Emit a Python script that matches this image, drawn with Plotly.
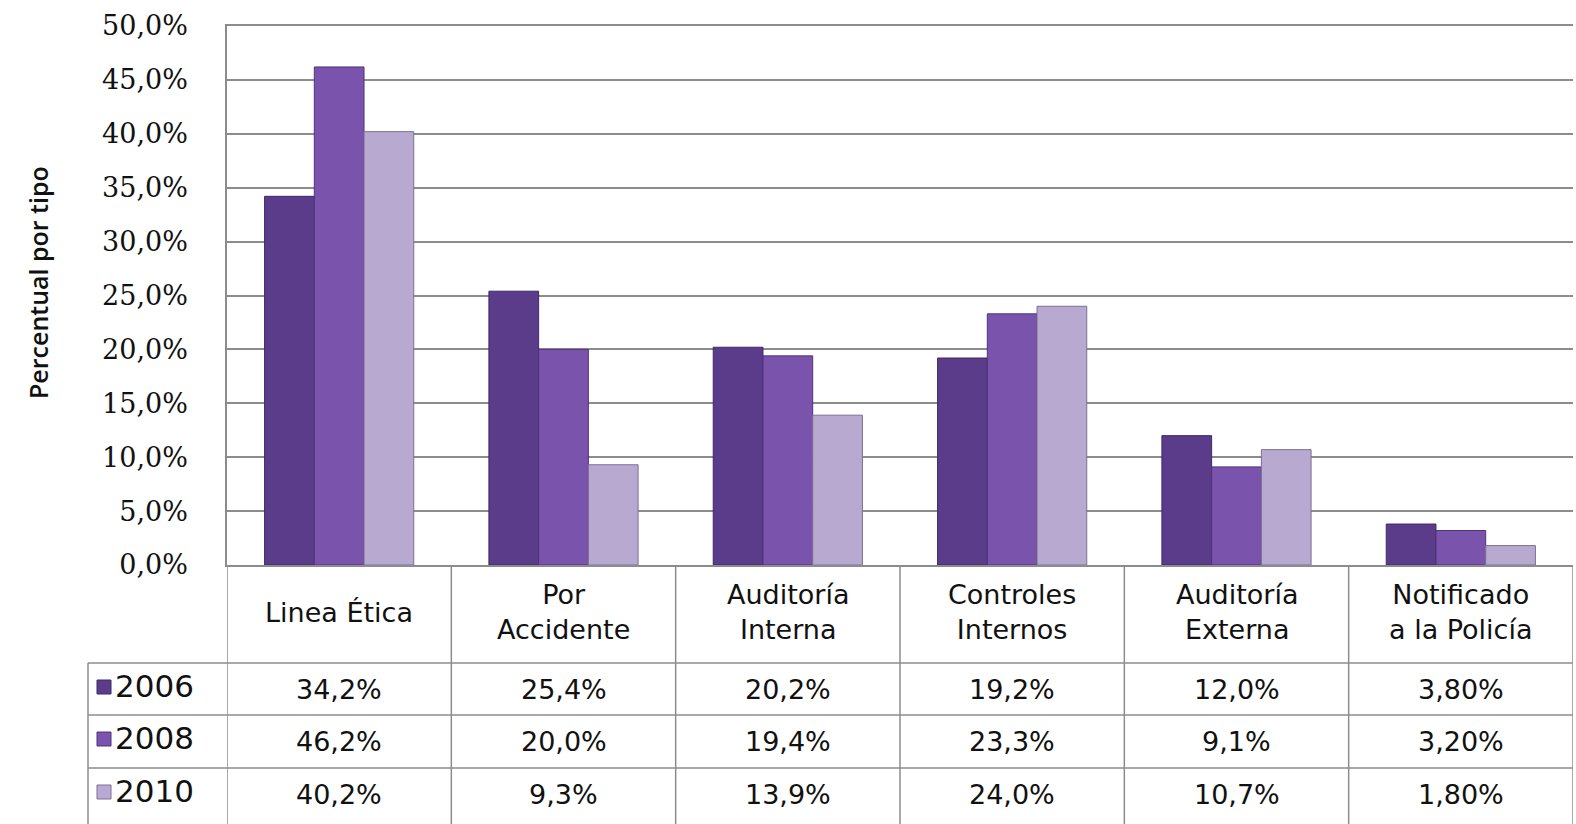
import plotly.graph_objects as go

# ---------------- data ----------------
categories = ["Linea Ética", "Por<br>Accidente", "Auditoría<br>Interna",
              "Controles<br>Internos", "Auditoría<br>Externa", "Notificado<br>a la Policía"]
years = ["2006", "2008", "2010"]
v2006 = [34.2, 25.4, 20.2, 19.2, 12.0, 3.8]
v2008 = [46.2, 20.0, 19.4, 23.3, 9.1, 3.2]
v2010 = [40.2, 9.3, 13.9, 24.0, 10.7, 1.8]
decimals = [1, 1, 1, 1, 1, 2]
y_ticks = [0, 5, 10, 15, 20, 25, 30, 35, 40, 45, 50]
y_ticktext = [f"{t:.1f}".replace(".", ",") + "%" for t in y_ticks]

series = [v2006, v2008, v2010]
colors = ["#5a3c8a", "#7a53ad", "#b7a9cf"]
outline = ["#3f2865", "#4f3478", "#7d6f96"]

# ---------------- geometry helpers (pixels -> paper) ----------------
W, H = 1576, 824
L, R, T, B = 227, 3, 26, 259
PW, PH = W - L - R, H - T - B


def px_x(p):
    return (p - L) / PW


def px_y(p):
    return (H - B - p) / PH


fig = go.Figure()
for name, vals, c, oc in zip(years, series, colors, outline):
    fig.add_trace(go.Bar(
        x=categories, y=vals, name=name,
        marker=dict(color=c, line=dict(color=oc, width=1)),
        showlegend=False, hoverinfo="x+y+name",
    ))

grid = "#8c8c8c"
shapes = []
# table vertical lines (category boundaries)
for k in range(len(categories) + 1):
    shapes.append(dict(type="line", xref="x", yref="paper",
                       x0=k - 0.5, x1=k - 0.5, y0=0, y1=px_y(H),
                       line=dict(color=grid, width=1.5)))
# table horizontal row lines
row_lines = [663, 715, 768]
for rl in row_lines:
    shapes.append(dict(type="line", xref="paper", yref="paper",
                       x0=px_x(88), x1=1, y0=px_y(rl), y1=px_y(rl),
                       line=dict(color=grid, width=1.5)))
# legend column left border
shapes.append(dict(type="line", xref="paper", yref="paper",
                   x0=px_x(88), x1=px_x(88), y0=px_y(663), y1=px_y(H),
                   line=dict(color=grid, width=1.5)))

row_centers = [689, 741, 794]
annotations = []
# header labels
for i, cat in enumerate(categories):
    annotations.append(dict(xref="x", yref="paper", x=i, y=px_y(612),
                            text=cat, showarrow=False, xanchor="center", yanchor="middle",
                            font=dict(family="DejaVu Sans", size=27, color="#111111")))
# value cells + year labels + legend keys
for r, (name, vals) in enumerate(zip(years, series)):
    yc = row_centers[r]
    for i, v in enumerate(vals):
        txt = f"{v:.{decimals[i]}f}".replace(".", ",") + "%"
        annotations.append(dict(xref="x", yref="paper", x=i, y=px_y(yc),
                                text=txt, showarrow=False, xanchor="center", yanchor="middle",
                                font=dict(family="DejaVu Sans", size=27, color="#111111")))
    annotations.append(dict(xref="paper", yref="paper", x=px_x(113), y=px_y(yc - 3),
                            text=name, showarrow=False, xanchor="left", yanchor="middle",
                            font=dict(family="DejaVu Sans", size=31, color="#111111")))
    shapes.append(dict(type="rect", xref="paper", yref="paper",
                       x0=px_x(97), x1=px_x(111), y0=px_y(yc + 5), y1=px_y(yc - 9),
                       fillcolor=colors[r], line=dict(color=outline[r], width=1)))

# y-axis title
annotations.append(dict(xref="paper", yref="paper", x=px_x(38), y=px_y(283),
                        text="Percentual por tipo", textangle=-90, showarrow=False,
                        xanchor="center", yanchor="middle",
                        font=dict(family="Open Sans", size=25, color="#111111", weight=600)))

fig.update_layout(
    width=W, height=H, autosize=False,
    margin=dict(l=L, r=R, t=T, b=B, pad=0),
    paper_bgcolor="white", plot_bgcolor="white",
    barmode="group", bargap=0.335, bargroupgap=0,
    separators=",.",
    shapes=shapes, annotations=annotations,
    xaxis=dict(type="category", range=[-0.5, len(categories) - 0.5],
               showticklabels=False, showgrid=False, zeroline=False, ticks="",
               showline=True, linecolor=grid, linewidth=1.5, mirror=True),
    yaxis=dict(range=[0, 50], tickmode="array", tickvals=y_ticks, ticktext=y_ticktext,
               showgrid=True, gridcolor=grid, gridwidth=1.5, zeroline=False,
               showline=True, linecolor=grid, linewidth=1.5, ticks="",
               ticklabelstandoff=32,
               tickfont=dict(family="DejaVu Serif", size=27, color="#111111")),
)

fig.write_html("out.html")
